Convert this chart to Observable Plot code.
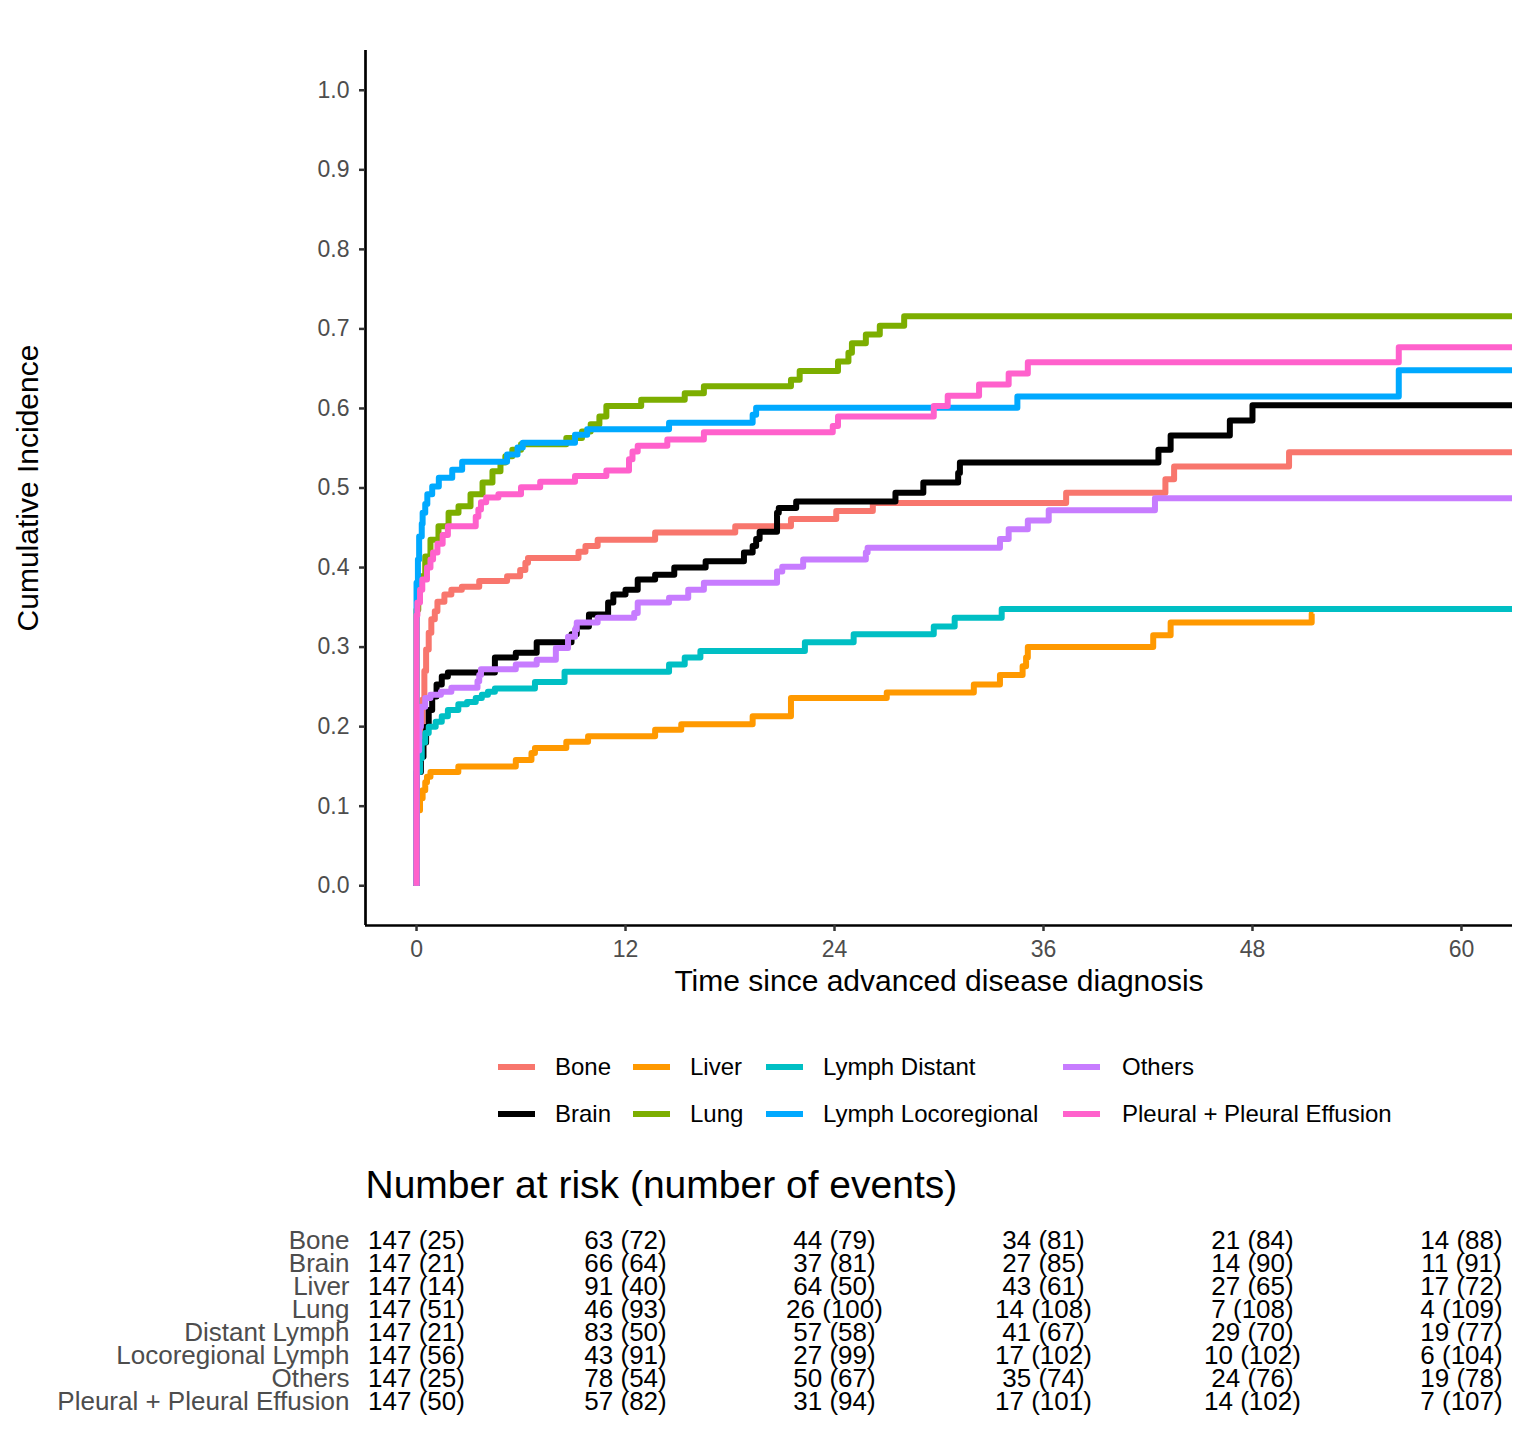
<!DOCTYPE html>
<html><head><meta charset="utf-8">
<script src="https://cdn.jsdelivr.net/npm/d3@7"></script>
<script src="https://cdn.jsdelivr.net/npm/@observablehq/plot@0.6"></script>
<style>
body{margin:0;background:#fff;font-family:"Liberation Sans",Arial,sans-serif;}
#chart{width:1530px;}
#chart svg{display:block;}
</style></head><body><div id="chart"></div>
<script>
const groups = ["Bone","Brain","Liver","Lung","Lymph Distant","Lymph Locoregional","Others","Pleural + Pleural Effusion"];
const colors = ["#F8766D","#000000","#FF9900","#7CAE00","#00BFC4","#00A9FF","#C77CFF","#FF61CC"];

// [time, cumulative incidence] step points per group
const bone = [[0,0],[0,0.17],[0.2,0.2],[0.35,0.234],[0.45,0.27],[0.55,0.297],[0.7,0.318],[0.85,0.335],[1.05,0.345],[1.2,0.357],[1.6,0.366],[2.0,0.372],[2.6,0.376],[3.6,0.383],[5.2,0.389],[5.95,0.397],[6.25,0.406],[6.4,0.412],[9.3,0.42],[9.7,0.427],[10.4,0.435],[13.7,0.444],[18.3,0.452],[21.5,0.461],[24.1,0.471],[26.2,0.481],[37.3,0.494],[43.0,0.511],[43.5,0.527],[50.1,0.545]];
const brain = [[0,0],[0,0.143],[0.25,0.162],[0.4,0.18],[0.55,0.2],[0.7,0.221],[0.9,0.238],[1.15,0.253],[1.45,0.263],[1.8,0.268],[4.5,0.287],[5.7,0.293],[6.9,0.306],[8.9,0.316],[9.2,0.326],[9.9,0.341],[11.0,0.356],[11.3,0.366],[12.0,0.372],[12.7,0.385],[13.7,0.391],[14.8,0.400],[16.6,0.408],[18.8,0.419],[19.3,0.427],[19.5,0.436],[19.7,0.445],[20.7,0.469],[20.8,0.475],[21.8,0.483],[27.5,0.494],[29.1,0.507],[31.1,0.519],[31.2,0.532],[42.6,0.548],[43.3,0.566],[46.7,0.585],[48.0,0.604]];
const liver = [[0,0],[0,0.095],[0.2,0.11],[0.35,0.12],[0.5,0.13],[0.6,0.137],[0.8,0.143],[2.4,0.150],[5.7,0.158],[6.6,0.167],[6.8,0.173],[8.6,0.181],[9.85,0.188],[13.7,0.196],[15.2,0.203],[19.3,0.213],[21.5,0.236],[27.0,0.243],[32.0,0.253],[33.5,0.265],[34.8,0.276],[35.0,0.287],[35.1,0.300],[42.3,0.315],[43.3,0.331],[51.4,0.342]];
const lung = [[0,0],[0,0.347],[0.1,0.37],[0.2,0.389],[0.5,0.414],[0.8,0.435],[1.26,0.452],[1.84,0.469],[2.41,0.477],[3.1,0.492],[3.79,0.507],[4.36,0.521],[4.82,0.532],[5.1,0.540],[5.5,0.548],[6.0,0.555],[8.6,0.563],[9.5,0.571],[10.0,0.580],[10.5,0.590],[10.9,0.603],[12.9,0.611],[15.4,0.619],[16.5,0.628],[21.5,0.636],[22.0,0.647],[24.2,0.659],[24.8,0.670],[25.0,0.682],[25.8,0.693],[26.6,0.704],[28.0,0.716]];
const lymphDistant = [[0,0],[0,0.143],[0.2,0.16],[0.3,0.18],[0.5,0.192],[0.7,0.2],[1.1,0.206],[1.45,0.213],[1.8,0.221],[2.4,0.228],[2.9,0.231],[3.4,0.236],[3.75,0.240],[4.1,0.244],[4.5,0.248],[6.8,0.256],[8.5,0.269],[14.5,0.278],[15.4,0.287],[16.3,0.295],[22.3,0.306],[25.1,0.316],[29.7,0.326],[30.9,0.337],[33.6,0.348]];
const lymphLoco = [[0,0],[0,0.381],[0.08,0.41],[0.15,0.439],[0.3,0.455],[0.35,0.469],[0.5,0.48],[0.62,0.492],[0.9,0.502],[1.28,0.513],[2.05,0.523],[2.62,0.533],[5.2,0.542],[5.8,0.551],[6.1,0.557],[9.1,0.567],[9.8,0.574],[14.5,0.582],[19.3,0.592],[19.5,0.601],[34.5,0.615],[56.4,0.648]];
const others = [[0,0],[0,0.17],[0.15,0.2],[0.25,0.225],[0.5,0.236],[0.8,0.240],[1.4,0.244],[2.0,0.249],[3.5,0.257],[3.6,0.265],[3.7,0.272],[5.7,0.278],[6.9,0.284],[8.0,0.299],[8.7,0.313],[9.1,0.322],[9.2,0.331],[10.4,0.337],[12.5,0.343],[12.7,0.356],[14.5,0.362],[15.6,0.372],[16.5,0.381],[20.7,0.395],[21.0,0.401],[22.2,0.410],[25.8,0.419],[25.9,0.425],[33.5,0.436],[34.0,0.448],[35.1,0.459],[36.3,0.472],[42.4,0.487]];
const pleural = [[0,0],[0,0.340],[0.05,0.356],[0.2,0.372],[0.33,0.385],[0.6,0.400],[0.8,0.410],[0.95,0.419],[1.2,0.430],[1.5,0.441],[1.8,0.452],[3.4,0.464],[3.55,0.473],[3.7,0.482],[4.0,0.488],[4.7,0.492],[6.0,0.501],[7.1,0.508],[9.1,0.515],[10.9,0.522],[12.2,0.536],[12.4,0.546],[12.7,0.553],[14.4,0.561],[16.5,0.570],[23.9,0.578],[24.2,0.590],[29.7,0.603],[30.5,0.616],[32.3,0.630],[34.0,0.644],[35.1,0.658],[56.4,0.677]];
// last follow-up time per group
const endTimes = [63, 63, 51.5, 63, 63, 63, 63, 63];

const xTicks = [0, 12, 24, 36, 48, 60];
const yTicks = [0, 0.1, 0.2, 0.3, 0.4, 0.5, 0.6, 0.7, 0.8, 0.9, 1.0];
const xTitle = "Time since advanced disease diagnosis";
const yTitle = "Cumulative Incidence";

const riskTitle = "Number at risk (number of events)";
const riskRows = ["Bone","Brain","Liver","Lung","Distant Lymph","Locoregional Lymph","Others","Pleural + Pleural Effusion"];
const riskTimes = [0, 12, 24, 36, 48, 60];
const riskBone = ["147 (25)","63 (72)","44 (79)","34 (81)","21 (84)","14 (88)"];
const riskBrain = ["147 (21)","66 (64)","37 (81)","27 (85)","14 (90)","11 (91)"];
const riskLiver = ["147 (14)","91 (40)","64 (50)","43 (61)","27 (65)","17 (72)"];
const riskLung = ["147 (51)","46 (93)","26 (100)","14 (108)","7 (108)","4 (109)"];
const riskDistant = ["147 (21)","83 (50)","57 (58)","41 (67)","29 (70)","19 (77)"];
const riskLoco = ["147 (56)","43 (91)","27 (99)","17 (102)","10 (102)","6 (104)"];
const riskOthers = ["147 (25)","78 (54)","50 (67)","35 (74)","24 (76)","19 (78)"];
const riskPleural = ["147 (50)","57 (82)","31 (94)","17 (101)","14 (102)","7 (107)"];

const FONT = "Liberation Sans, Arial, Helvetica, sans-serif";
const seriesList = [bone, brain, liver, lung, lymphDistant, lymphLoco, others, pleural];
const rows = seriesList.flatMap((s, i) => {
  const pts = s.map(([t, v]) => ({group: groups[i], t, v}));
  pts.push({group: groups[i], t: endTimes[i], v: s[s.length - 1][1]});
  return pts;
});
const xDomain = [-2.93, 62.93];

const main = Plot.plot({
  width: 1530, height: 1000,
  marginLeft: 365, marginRight: 18, marginTop: 50, marginBottom: 75,
  style: {fontFamily: FONT, background: "white", overflow: "visible"},
  x: {domain: xDomain},
  y: {domain: [-0.05, 1.05]},
  color: {domain: groups, range: colors},
  marks: [
    Plot.line(rows, {x: "t", y: "v", z: "group", stroke: "group", strokeWidth: 6, curve: "step-after", clip: true, strokeLinejoin: "round", strokeLinecap: "butt"}),
    Plot.ruleX([xDomain[0]], {stroke: "black", strokeWidth: 2.7}),
    Plot.ruleY([-0.05], {stroke: "black", strokeWidth: 2.7}),
    Plot.axisX({ticks: xTicks, tickSize: 6, tickPadding: 9, fontSize: 23, fill: "#4D4D4D", stroke: "#333333", strokeWidth: 2.5, label: null}),
    Plot.axisY({ticks: yTicks, tickSize: 6, tickPadding: 10, fontSize: 23, fill: "#4D4D4D", stroke: "#333333", strokeWidth: 2.5, tickFormat: d3.format(".1f"), label: null}),
    Plot.text([xTitle], {text: d => d, frameAnchor: "bottom", lineAnchor: "middle", textAnchor: "middle", dy: 56, fontSize: 30, fill: "black"}),
    Plot.text([yTitle], {text: d => d, frameAnchor: "left", lineAnchor: "middle", textAnchor: "middle", dx: -337, rotate: -90, fontSize: 30, fill: "black"})
  ]
});
document.getElementById("chart").appendChild(main);

// Legend (column-major, 2 rows x 4 columns)
const legend = d3.create("svg").attr("width", 1530).attr("height", 140)
  .style("font-family", FONT).style("display", "block");
const colX = [498, 633, 766, 1063];
const rowY = [67, 114];
groups.forEach((g, i) => {
  const c = Math.floor(i / 2), r = i % 2;
  const gEl = legend.append("g").attr("transform", `translate(${colX[c]},${rowY[r]})`);
  gEl.append("line").attr("x1", 0).attr("x2", 37).attr("y1", 0).attr("y2", 0)
    .attr("stroke", colors[i]).attr("stroke-width", 6);
  gEl.append("text").attr("x", 57 + (c === 3 ? 2 : 0)).attr("y", 0).attr("dy", "0.35em")
    .attr("font-size", 24).attr("fill", "black").text(g);
});
document.getElementById("chart").appendChild(legend.node());

// Risk table
const riskValues = [riskBone, riskBrain, riskLiver, riskLung, riskDistant, riskLoco, riskOthers, riskPleural];
const riskData = riskRows.flatMap((r, i) => riskTimes.map((t, j) => ({row: r, t, label: riskValues[i][j]})));
const table = Plot.plot({
  width: 1530, height: 290,
  marginLeft: 365, marginRight: 18, marginTop: 97, marginBottom: 27,
  style: {fontFamily: FONT, background: "white", overflow: "visible"},
  x: {domain: xDomain, axis: null},
  y: {type: "point", domain: riskRows, padding: 0, axis: null},
  marks: [
    Plot.text(riskData, {x: "t", y: "row", text: "label", fontSize: 26, fill: "black"}),
    Plot.axisY({tickSize: 0, tickPadding: 16, fontSize: 26, fill: "#4D4D4D", label: null}),
    Plot.text([riskTitle], {text: d => d, frameAnchor: "top-left", textAnchor: "start", lineAnchor: "middle", dy: -52, fontSize: 39, fill: "black"})
  ]
});
document.getElementById("chart").appendChild(table);
</script>
</body></html>
